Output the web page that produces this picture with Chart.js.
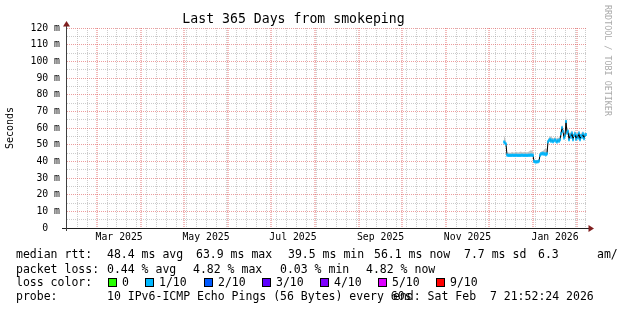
<!DOCTYPE html>
<html><head><meta charset="utf-8">
<script src="https://cdn.jsdelivr.net/npm/chart.js@4.4.1/dist/chart.umd.min.js"></script>
<style>
html,body{margin:0;padding:0;background:#fff;}
body{width:617px;height:310px;overflow:hidden;position:relative;}
#c{position:absolute;left:0;top:0;}
.lg{position:absolute;font:11.5px/14px "DejaVu Sans Mono",monospace;color:#000;white-space:pre;}
.box{position:absolute;width:7px;height:7px;border:1px solid #000;}
#wm{position:absolute;left:603px;top:5px;writing-mode:vertical-rl;font:8.4px/9px "DejaVu Sans Mono",monospace;color:#aaa;white-space:pre;}
</style></head><body>
<canvas id="c" width="617" height="310"></canvas>
<div id="legend"></div>
<div id="wm">RRDTOOL / TOBI OETIKER</div>
<script>
// ---------------- data ----------------
const chartTitle = 'Last 365 Days from smokeping';
const rangeEndUTC = '2026-02-07T21:52:24Z';
const rangeDays = 365;
const majorGridMonths = ['2025-03','2025-04','2025-05','2025-06','2025-07','2025-08','2025-09','2025-10','2025-11','2025-12','2026-01','2026-02'];
const xLabelMonths = ['2025-03','2025-05','2025-07','2025-09','2025-11','2026-01'];
const xTickLabels = ['Mar 2025','May 2025','Jul 2025','Sep 2025','Nov 2025','Jan 2026'];
const minorGridFirstUTC = '2025-02-15T00:00:00Z';
const minorGridEveryDays = 7;
const yTickValues = [0,10,20,30,40,50,60,70,80,90,100,110,120];
const yTickLabels = ['0','10 m','20 m','30 m','40 m','50 m','60 m','70 m','80 m','90 m','100 m','110 m','120 m'];
const yMinorValues = [5,15,25,35,45,55,65,75,85,95,105,115];

// one rrd sample per consolidation step (ms)
const sampleFirstUTC = '2025-12-11T15:40:00Z';
const sampleStepSeconds = 60646;
const medianRttMs = [
 51.6,51.0,50.4,43.8,43.6,43.5,43.6,43.5,43.7,43.6,
 43.5,43.6,43.7,43.6,43.5,43.6,43.5,43.7,43.6,43.6,
 43.5,43.7,43.6,43.5,43.6,43.7,43.6,43.8,43.7,43.6,
 40.0,39.7,39.6,39.8,39.7,40.2,43.6,44.6,44.4,44.8,
 44.2,44.6,44.0,44.5,51.8,52.5,53.2,52.0,52.8,51.8,
 52.4,53.0,52.2,51.6,52.6,52.0,53.0,56.5,60.2,58.0,
 54.0,55.2,63.9,57.0,58.0,53.0,56.0,54.5,57.0,53.0,
 55.5,56.5,53.2,55.8,54.0,57.0,53.0,55.5,54.5,56.5,
 53.5,55.8,56.1];
const smokeLowMs = [
 51.0,50.5,50.0,43.3,43.2,43.1,43.2,43.1,43.2,43.2,
 43.1,43.2,43.3,43.2,43.1,43.2,43.1,43.3,43.2,43.2,
 43.1,43.3,43.2,43.1,43.2,43.3,43.2,43.3,43.2,43.1,
 39.5,39.5,39.5,39.5,39.5,39.8,43.0,44.0,43.8,44.2,
 43.6,44.0,43.5,43.9,51.0,51.8,52.5,51.4,52.1,51.2,
 51.8,52.3,51.6,51.0,52.0,51.4,52.3,55.5,58.5,56.5,
 53.0,54.2,61.0,55.5,56.5,52.2,55.0,53.5,55.8,52.2,
 54.5,55.5,52.4,54.8,53.2,56.0,52.2,54.6,53.6,55.5,
 52.6,54.8,55.2];
const smokeHighMs = [
 55.5,54.0,52.0,45.5,45.2,45.4,45.0,45.3,45.6,45.4,
 45.2,45.5,45.8,45.6,45.3,45.4,45.7,45.9,45.5,45.4,
 45.6,45.8,45.5,45.4,45.6,45.9,46.3,46.6,46.4,45.8,
 41.2,40.8,40.6,40.9,40.7,41.5,44.8,45.8,46.0,46.2,
 46.8,47.5,48.0,47.2,53.5,54.2,54.8,55.0,54.3,53.8,
 54.0,54.6,54.1,53.6,54.4,53.9,55.0,59.0,62.0,60.5,
 56.5,58.0,67.2,60.5,60.0,56.0,58.0,57.0,59.0,55.5,
 57.5,58.5,55.5,57.8,56.0,59.0,55.2,57.5,56.8,58.5,
 55.6,57.5,57.8];

const rttSummary = ['median rtt:','48.4 ms avg','63.9 ms max','39.5 ms min','56.1 ms now','7.7 ms sd','6.3','am/s'];
const lossSummary = ['packet loss:','0.44 % avg','4.82 % max','0.03 % min','4.82 % now'];
const lossColorLabels = ['0','1/10','2/10','3/10','4/10','5/10','9/10'];
const lossColors = ['#26ff00','#00b8ff','#0059ff','#5e00ff','#7e00ff','#dd00ff','#ff0000'];
const probeLine = ['probe:','10 IPv6-ICMP Echo Pings (56 Bytes) every 60s','end: Sat Feb  7 21:52:24 2026'];

// ---------------- layout (positions only) ----------------
const rowTop = [247, 261.5, 275, 289];
const rttX = [16,107,196,288,374,464,538,597];
const lossX = [16,107,193,280,366];
const boxX = [108,145,204,262,320,378,436];
const probeX = [16,107,393];

// ---------------- build ----------------
const msOf = s => Date.parse(s);
const monthStart = ym => { const [y,m] = ym.split('-').map(Number); return Date.UTC(y, m-1, 1); };
const nextMonth = ym => { const [y,m] = ym.split('-').map(Number); return Date.UTC(y, m, 1); };
const endMs = msOf(rangeEndUTC);
const startMs = endMs - rangeDays*86400000;

const majorX = majorGridMonths.map(monthStart);
const minorX = [];
for (let t = msOf(minorGridFirstUTC); t < endMs; t += minorGridEveryDays*86400000) {
  if (!majorX.includes(t)) minorX.push(t);
}
const labelX = xLabelMonths.map(ym => (monthStart(ym) + nextMonth(ym)) / 2);

const t0 = msOf(sampleFirstUTC);
const pts = arr => arr.map((v,i) => ({x: t0 + i*sampleStepSeconds*1000, y: v}));

const MAJOR_H = 'rgba(222,79,79,0.55)', MAJOR_V = 'rgba(222,79,79,0.4)', MINOR = 'rgba(143,143,143,0.45)', NONE = 'rgba(0,0,0,0)';
const axisFont = {family: 'DejaVu Sans Mono', size: 9.8};

// rrdtool style dotted grid, positioned through the chart's own scales
const gridPlugin = {
  id: 'rrdGrid',
  beforeDatasetsDraw(chart) {
    const {ctx, chartArea: a, scales: {x, y}} = chart;
    ctx.save();
    ctx.setLineDash([1, 1]);
    const v = (val, col, w) => { const p = w === 2 ? Math.round(x.getPixelForValue(val)) : Math.round(x.getPixelForValue(val) - 0.5) + 0.5;
      ctx.lineWidth = w; ctx.strokeStyle = col; ctx.beginPath(); ctx.moveTo(p, a.top); ctx.lineTo(p, a.bottom); ctx.stroke(); };
    const h = (val, col) => { const p = Math.round(y.getPixelForValue(val) - 0.5) + 0.5;
      ctx.lineWidth = 1; ctx.strokeStyle = col; ctx.beginPath(); ctx.moveTo(a.left, p); ctx.lineTo(a.right, p); ctx.stroke(); };
    minorX.forEach(t => v(t, MINOR, 1));
    yMinorValues.forEach(t => h(t, MINOR));
    majorX.forEach(t => v(t, MAJOR_V, 2));
    yTickValues.forEach(t => h(t, MAJOR_H));
    ctx.restore();
  }
};

const axisPlugin = {
  id: 'rrdAxes',
  afterDraw(chart) {
    const {ctx, chartArea: a} = chart;
    const x0 = a.left - 0.5, y0 = a.bottom + 0.5;
    ctx.save();
    ctx.lineWidth = 1;
    ctx.strokeStyle = '#1f1f1f';
    ctx.beginPath(); ctx.moveTo(a.left - 5, y0); ctx.lineTo(a.right + 3, y0); ctx.stroke();
    ctx.strokeStyle = '#404040';
    ctx.beginPath(); ctx.moveTo(x0, a.bottom + 3); ctx.lineTo(x0, a.top - 4); ctx.stroke();
    ctx.fillStyle = '#801f1f';
    ctx.beginPath(); ctx.moveTo(x0, a.top - 7); ctx.lineTo(x0 - 3.5, a.top - 1.5); ctx.lineTo(x0 + 3.5, a.top - 1.5); ctx.closePath(); ctx.fill();
    ctx.beginPath(); ctx.moveTo(a.right + 7, y0); ctx.lineTo(a.right + 1.5, y0 - 3.5); ctx.lineTo(a.right + 1.5, y0 + 3.5); ctx.closePath(); ctx.fill();
    ctx.restore();
  }
};

new Chart(document.getElementById('c'), {
  type: 'line',
  data: { datasets: [
    {label: 'smoke low', data: pts(smokeLowMs), borderColor: NONE, borderWidth: 0, pointRadius: 0, fill: false, order: 4},
    {label: 'smoke', data: pts(smokeHighMs), borderColor: NONE, borderWidth: 0, pointRadius: 0, backgroundColor: '#c4c4c4', fill: '-1', order: 3},
    {label: 'median', data: pts(medianRttMs), borderColor: '#000', borderWidth: 1, pointRadius: 0, fill: false, tension: 0, order: 2},
    {label: 'loss 1/10', data: pts(medianRttMs), showLine: false, pointStyle: 'line', pointRadius: 0.8, pointBorderWidth: 3, pointBorderColor: lossColors[1], pointBackgroundColor: lossColors[1], order: 1}
  ]},
  options: {
    responsive: false, animation: false, devicePixelRatio: 1,
    events: [],
    layout: {padding: {left: 0, right: 30, top: 0, bottom: 0}},
    plugins: {
      legend: {display: false}, tooltip: {enabled: false},
      title: {display: true, text: chartTitle, color: '#000',
        font: {family: 'DejaVu Sans Mono', size: 13.2, weight: 'normal', lineHeight: '17px'},
        padding: {top: 11, bottom: 0}}
    },
    scales: {
      x: {
        type: 'linear', min: startMs, max: endMs,
        afterBuildTicks: s => { s.ticks = labelX.map(v => ({value: v})); },
        afterFit: s => { s.height = 82; },
        ticks: {autoSkip: false, maxRotation: 0, minRotation: 0, padding: 4, color: '#000', font: axisFont,
          callback: (v, i) => xTickLabels[i]},
        grid: {display: false, drawTicks: false},
        border: {display: false}
      },
      y: {
        min: 0, max: 120,
        afterBuildTicks: s => { s.ticks = yTickValues.map(v => ({value: v})); },
        afterFit: s => { s.width = 67; },
        ticks: {autoSkip: false, padding: 7, color: '#000', font: axisFont,
          callback: (v, i) => { const l = yTickLabels[i]; return l.includes(' ') ? l : l + '  '; }},
        grid: {display: false, drawTicks: false},
        border: {display: false},
        title: {display: true, text: 'Seconds', color: '#000', font: {family: 'DejaVu Sans Mono', size: 10}, padding: {top: 4, bottom: 0}}
      }
    }
  },
  plugins: [gridPlugin, axisPlugin]
});

// ---------------- legend (HTML text) ----------------
const lg = document.getElementById('legend');
const addText = (x, y, t) => { const d = document.createElement('div'); d.className = 'lg'; d.style.left = x + 'px'; d.style.top = y + 'px'; d.textContent = t; lg.appendChild(d); };
rttSummary.forEach((t, i) => addText(rttX[i], rowTop[0], t));
lossSummary.forEach((t, i) => addText(lossX[i], rowTop[1], t));
addText(16, rowTop[2], 'loss color:');
lossColorLabels.forEach((t, i) => {
  const b = document.createElement('div'); b.className = 'box';
  b.style.left = boxX[i] + 'px'; b.style.top = (rowTop[2] + 3) + 'px'; b.style.background = lossColors[i];
  lg.appendChild(b);
  addText(boxX[i] + 14, rowTop[2], t);
});
probeLine.forEach((t, i) => addText(probeX[i], rowTop[3], t));
</script>
</body></html>
